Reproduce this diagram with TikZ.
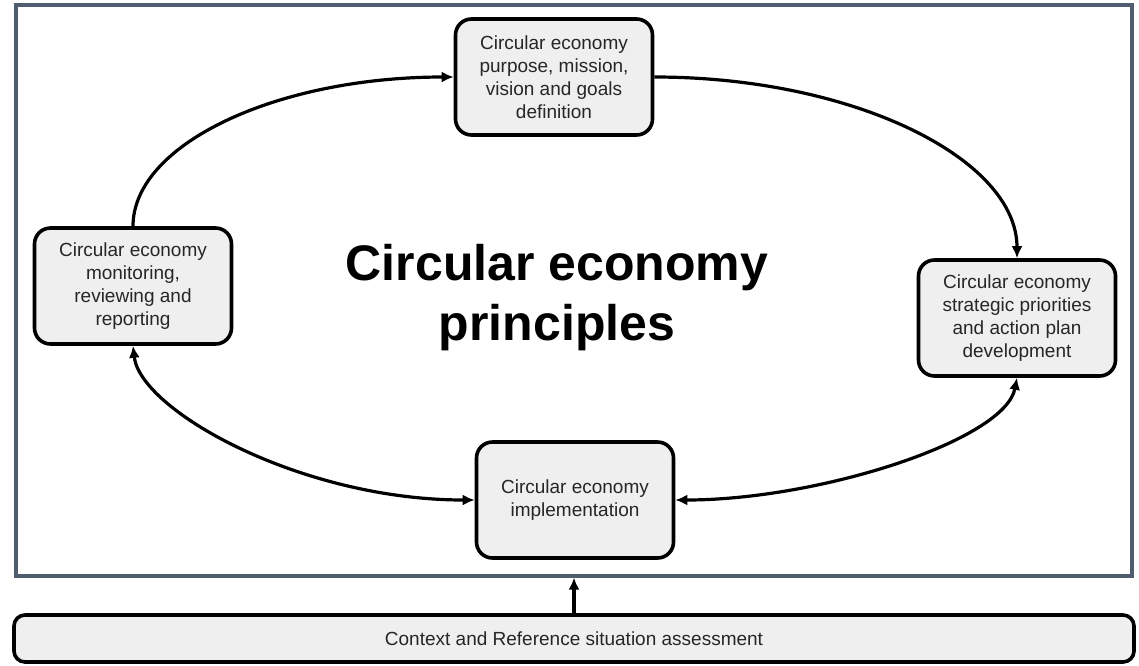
\documentclass[tikz,border=0pt]{standalone}
\usepackage{fontspec}
\setmainfont{Liberation Sans}
\usetikzlibrary{arrows.meta}
\definecolor{boxfill}{HTML}{EFEFEF}
\definecolor{framecol}{HTML}{4F5D6E}
\definecolor{txt}{HTML}{262626}
\tikzset{
  x=1pt, y=-1pt,
  stagebox/.style={draw=black, line width=3.6pt, rounded corners=16pt, fill=boxfill,
    minimum width=197pt, minimum height=116pt, align=center, text=txt,
    font=\fontsize{19}{23}\selectfont, inner sep=2pt},
  tip/.tip={Latex[length=12pt,width=11pt]},
  conn/.style={line width=3.2pt, -tip},
  bconn/.style={line width=3.2pt, tip-tip},
}
\begin{document}
\begin{tikzpicture}
\useasboundingbox (0,0) rectangle (1139,665);
\fill[white] (0,0) rectangle (1139,665);
\draw[framecol, line width=3.2pt] (16,5) rectangle (1132,576);
\coordinate (framebot) at (574,577.6);

\node[stagebox] (top) at (554,77) {Circular economy\\purpose, mission,\\vision and goals\\definition};
\node[stagebox] (left) at (133,286) {Circular economy\\monitoring,\\reviewing and\\reporting};
\node[stagebox] (right) at (1017,318) {Circular economy\\strategic priorities\\and action plan\\development};
\node[stagebox] (bottom) at (575,500) {Circular economy\\implementation};
\node[draw=black, line width=3.6pt, rounded corners=11pt, fill=boxfill, minimum width=1120pt,
  minimum height=47pt, text=txt, font=\fontsize{19}{23}\selectfont] (bar) at (574,638.5)
  {Context and Reference situation assessment};

\node[font=\bfseries\fontsize{50}{60}\selectfont, align=center] (title) at (557,298)
  {Circular economy\\principles};

\draw[conn] (left.north) .. controls (133,144) and (277,77) .. (top.west);
\draw[conn] (top.east) .. controls (854,77) and (1017,159) .. (right.north);
\draw[bconn] (right.south) .. controls (1005,440) and (820,500) .. (bottom.east);
\draw[bconn] (left.south) .. controls (140,410) and (300,500) .. (bottom.west);
\draw[conn] (bar.north) -- (framebot);
\end{tikzpicture}
\end{document}
